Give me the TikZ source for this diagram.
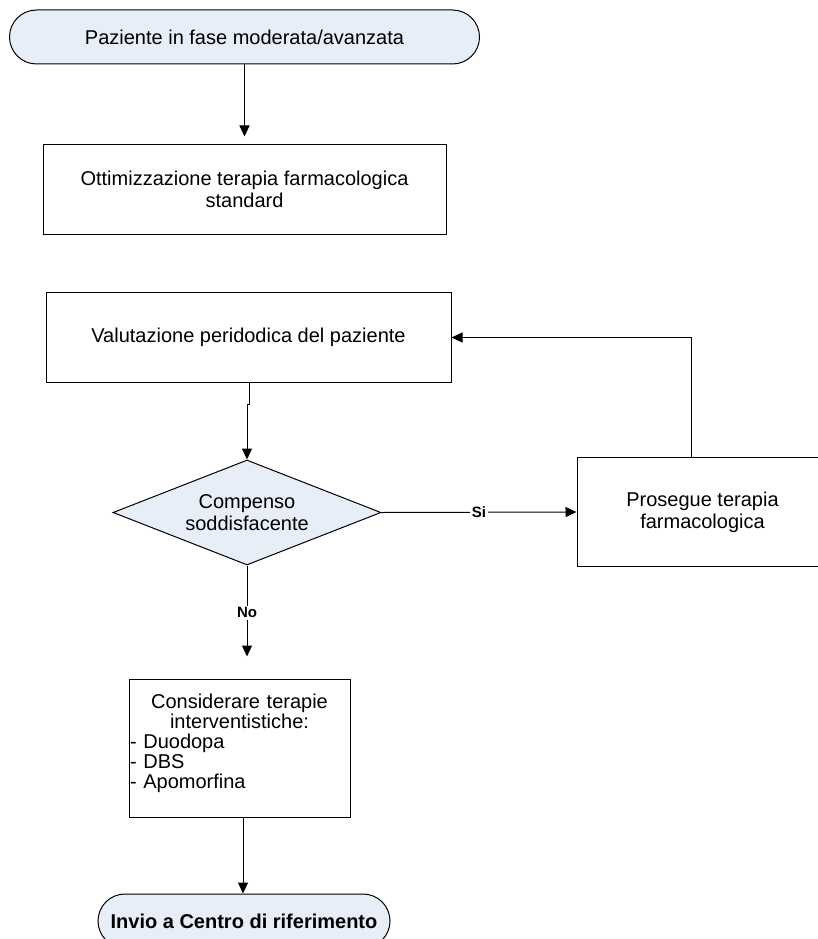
\documentclass[tikz,border=0pt]{standalone}
\usepackage{fontspec}
\setmainfont{Liberation Sans}
\usetikzlibrary{arrows.meta,shapes.geometric}
\definecolor{termfill}{RGB}{232,238,247}
\begin{document}
\begin{tikzpicture}[x=1pt,y=-1pt,
  base/.style={draw=black, line width=1pt, font=\fontsize{20}{22}\selectfont,
    align=center, inner sep=0pt},
  terminal/.style={base, fill=termfill, rounded corners=27pt, minimum height=54pt},
  procbox/.style={base, fill=white},
  decision/.style={base, diamond, fill=termfill, aspect=2.55},
  flow/.style={draw=black, line width=1pt, -{Triangle[length=11pt,width=10pt]}},
  tag/.style={fill=white, inner sep=2pt, font=\fontsize{15}{15}\bfseries\selectfont}
]
\useasboundingbox (0,0) rectangle (818,939);

% nodes
\node[terminal, minimum width=470pt] (start) at (244.5,37)
  {Paziente in fase moderata/avanzata};
\node[procbox, minimum width=403pt, minimum height=90pt] (ottim) at (244.5,189)
  {Ottimizzazione terapia farmacologica\\standard};
\node[procbox, minimum width=405pt, minimum height=90pt] (valut) at (248.5,337.5)
  {Valutazione peridodica del paziente};
\node[decision, minimum width=268pt, minimum height=105pt] (comp) at (247,512.5)
  {Compenso\\soddisfacente};
\node[procbox, minimum width=251pt, minimum height=109pt] (pros) at (702.5,512)
  {Prosegue terapia\\farmacologica};
\node[procbox, minimum width=221pt, minimum height=138pt, inner xsep=1pt,
  text width=219pt, align=left, text depth=93pt,
  font=\fontsize{20}{20}\selectfont] (cons) at (239.5,748)
  {{\centering Considerare terapie\\interventistiche:\par}- Duodopa\\- DBS\\- Apomorfina};
\node[terminal, minimum width=292pt, font=\fontsize{20}{22}\bfseries\selectfont]
  (finish) at (244,921) {Invio a Centro di riferimento};

% connectors
\draw[flow] (start.south) -- ([yshift=7pt]ottim.north);
\draw[flow] ([xshift=0.8pt]valut.south) -- ++(0,21) -| (comp.north);
\draw[flow] (comp.east) -- (pros.west) node[tag, pos=0.5] {Si};
\draw[flow] ([xshift=-11.5pt]pros.north) |- (valut.east);
\draw[flow] (comp.south) -- ([yshift=22pt]comp.south |- cons.north)
  node[tag, pos=0.52] {No};
\coordinate (consout) at ([xshift=3.5pt]cons.south);
\draw[flow] (consout) -- (consout |- finish.north);
\end{tikzpicture}
\end{document}
